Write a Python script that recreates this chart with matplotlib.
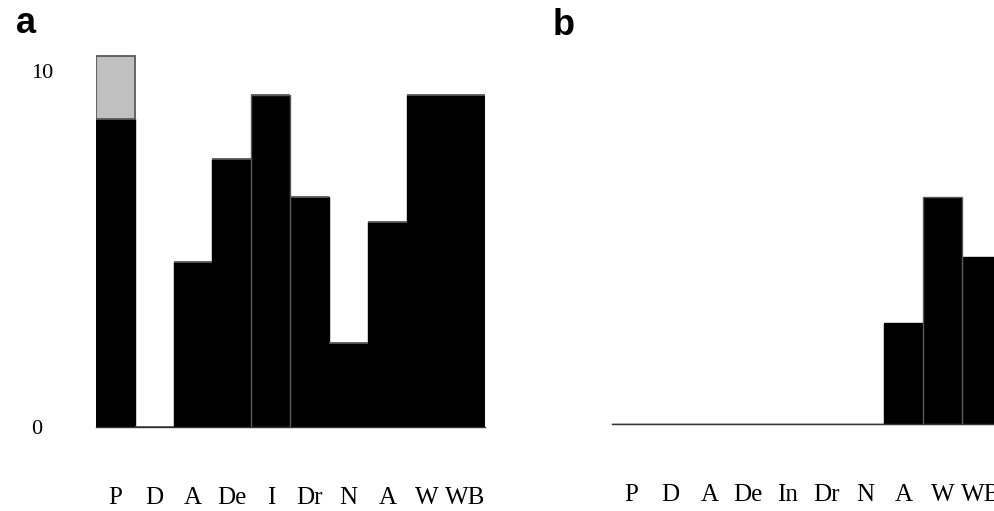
import matplotlib
matplotlib.use("Agg")
import matplotlib.pyplot as plt
import numpy as np

# panel a
cats_a = ['P', 'D', 'A', 'De', 'I', 'Dr', 'N', 'A', 'W', 'WB']
black_a = [8.65, 0, 4.64, 7.53, 9.33, 6.46, 2.36, 5.76, 9.33, 9.33]
gray_a = [1.77, 0, 0, 0, 0, 0, 0, 0, 0, 0]

# panel b
cats_b = ['P', 'D', 'A', 'De', 'In', 'Dr', 'N', 'A', 'W', 'WB']
black_b = [0, 0, 0, 0, 0, 0, 0, 2.84, 6.38, 4.69]

serif = 'Liberation Serif'
edge = '#5a5a5a'

fig = plt.figure(figsize=(9.95, 5.11), dpi=100)
ax_a = fig.add_axes([0.0962, 0.1644, 0.391, 0.7663])
ax_b = fig.add_axes([0.6151, 0.1697, 0.391, 0.7663])


def style_axis(ax, cats):
    x = np.arange(len(cats))
    ax.set_xlim(-0.5, len(cats) - 0.5)
    ax.set_ylim(0, 11)
    for s in ['top', 'right', 'left']:
        ax.spines[s].set_visible(False)
    ax.spines['bottom'].set_color('#333333')
    ax.spines['bottom'].set_linewidth(1.0)
    ax.set_xticks(x)
    ax.set_xticklabels(cats, fontfamily=serif, fontsize=18)
    ax.tick_params(axis='x', length=0, pad=43)
    return x


x = style_axis(ax_a, cats_a)
bars = ax_a.bar(x, black_a, width=1.0, color='black', edgecolor='black',
                linewidth=1.0)
bars[4].set_edgecolor(edge)  # the grey seam between I and Dr
bars[4].set_zorder(3)
ax_a.bar(x, gray_a, width=1.0, bottom=black_a, color='#c0c0c0',
         edgecolor=edge, linewidth=1.3)
ax_a.set_yticks([0, 10])
ax_a.set_yticklabels(['0', '10'], fontfamily=serif, fontsize=16)
ax_a.tick_params(axis='y', length=0, pad=46.6)
for t in ax_a.get_yticklabels():
    t.set_horizontalalignment('left')

x = style_axis(ax_b, cats_b)
bars = ax_b.bar(x, black_b, width=1.0, color='black', edgecolor='black',
                linewidth=1.0)
bars[8].set_edgecolor(edge)
bars[8].set_zorder(3)
ax_b.set_yticks([])

fig.text(16 / 995, 1 - 33 / 511, 'a', fontfamily='Liberation Sans',
         fontweight='bold', fontsize=26, va='baseline')
fig.text(553 / 995, 1 - 35 / 511, 'b', fontfamily='Liberation Sans',
         fontweight='bold', fontsize=26, va='baseline')

fig.savefig('out.png', dpi=100)
